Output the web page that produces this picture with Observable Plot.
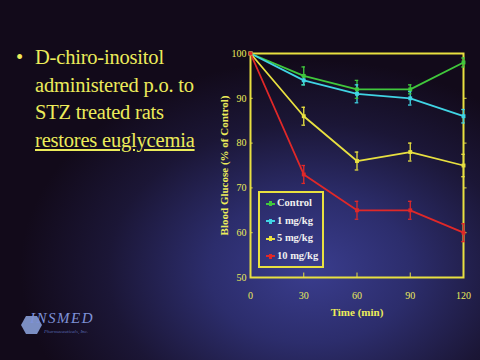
<!DOCTYPE html>
<html><head><meta charset="utf-8">
<script src="https://cdn.jsdelivr.net/npm/d3@7"></script>
<script src="https://cdn.jsdelivr.net/npm/@observablehq/plot@0.6"></script>
<style>
html,body{margin:0;padding:0;}
body{width:480px;height:360px;overflow:hidden;position:relative;
 background: radial-gradient(ellipse 290px 210px at 310px 270px, #3a3d8e 0%, #2c2d6c 35%, #1b1636 70%, #120a1a 100%);
 font-family:"Liberation Serif","Times New Roman",serif;}
#bullet{position:absolute;left:16px;top:44px;color:#ecec5a;font-size:20.5px;line-height:27.5px;}
#bullet .dot{position:absolute;left:0;top:0;}
#bullet .txt{position:absolute;left:19px;top:0;white-space:nowrap;letter-spacing:-0.2px;}
#chart{position:absolute;left:210px;top:40px;}
#chart svg{overflow:visible;}
#legend{position:absolute;left:258px;top:191px;width:62px;height:73px;border:2px solid #e8e040;
 color:#f0f0f0;font-weight:bold;font-size:10.5px;}
#legend .row{position:absolute;left:6px;height:12px;line-height:12px;white-space:nowrap;}
#legend .sw{display:inline-block;width:9px;height:2px;vertical-align:middle;margin-right:2px;position:relative;}
#legend .sw i{position:absolute;left:3px;top:-1.5px;width:3px;height:5px;}
#logo{position:absolute;left:28px;top:312px;color:#6878c8;}
</style></head>
<body>
<div id="bullet"><span class="dot">•</span><div class="txt">D-chiro-inositol<br>administered p.o. to<br>STZ treated rats<br><u>restores euglycemia</u></div></div>
<div id="chart"></div>
<div id="legend"></div>
<div id="logo">
<svg width="24" height="22" style="position:absolute;left:-8px;top:2px"><polygon points="6,2 17,2 22,11 17,20 6,20 1,11" fill="#8ea6e0" opacity="0.85"/></svg>
<span style="position:absolute;left:2px;top:-2px;font-style:italic;font-size:15px;letter-spacing:1.5px;color:#7f92d8;">INSMED</span>
<span style="position:absolute;left:16px;top:17px;font-style:italic;font-size:5px;color:#5868b0;white-space:nowrap;">Pharmaceuticals, Inc.</span>
</div>
<script>
const times = [0, 30, 60, 90, 120];
const seriesNames = ["Control", "1 mg/kg", "5 mg/kg", "10 mg/kg"];
const seriesColors = ["#40c83c", "#40d4e4", "#e8e040", "#e02828"];
const controlVals = [100, 95, 92, 92, 98];
const controlErr = [0, 2, 2, 1, 1];
const mg1Vals = [100, 94, 91, 90, 86];
const mg1Err = [0, 1, 2, 1.5, 1.5];
const mg5Vals = [100, 86, 76, 78, 75];
const mg5Err = [0, 2, 2, 2, 2.5];
const mg10Vals = [100, 73, 65, 65, 60];
const mg10Err = [0, 2, 2, 2, 2];
const xTicks = [0, 30, 60, 90, 120];
const yTicks = [50, 60, 70, 80, 90, 100];

const allVals = [controlVals, mg1Vals, mg5Vals, mg10Vals];
const allErr = [controlErr, mg1Err, mg5Err, mg10Err];
const data = [];
seriesNames.forEach((s, i) => times.forEach((t, j) => data.push({series: s, t, v: allVals[i][j], e: allErr[i][j]})));
const errData = data.filter(d => d.e > 0);
const color = {domain: seriesNames, range: seriesColors};
const innerX = xTicks.slice(1, -1);
const innerY = yTicks.slice(1, -1);

const chart = Plot.plot({
  width: 270, height: 280,
  marginLeft: 40, marginRight: 17, marginTop: 13, marginBottom: 43,
  style: {background: "transparent", color: "#ecec5a", fontFamily: "Liberation Serif, serif", fontSize: "10px", overflow: "visible"},
  x: {domain: [0, 120], label: null},
  y: {domain: [50, 100], label: null},
  color,
  marks: [
    Plot.frame({stroke: "#e8e040", strokeWidth: 2}),
    Plot.ruleX(innerX, {x: d => d, y1: 50, y2: 51, stroke: "#e8e040"}),
    Plot.ruleY(innerY, {y: d => d, x1: 0, x2: 1.5, stroke: "#e8e040"}),
    Plot.ruleY(innerY, {y: d => d, x1: 120, x2: 122, stroke: "#e8e040"}),
    Plot.ruleX(errData, {x: "t", y1: d => d.v - d.e, y2: d => d.v + d.e, stroke: "series", strokeWidth: 1.3}),
    Plot.ruleY(errData, {y: d => d.v - d.e, x1: d => d.t - 1, x2: d => d.t + 1, stroke: "series", strokeWidth: 1.3}),
    Plot.ruleY(errData, {y: d => d.v + d.e, x1: d => d.t - 1, x2: d => d.t + 1, stroke: "series", strokeWidth: 1.3}),
    Plot.line(data, {x: "t", y: "v", z: "series", stroke: "series", strokeWidth: 1.8}),
    Plot.dot(data, {x: "t", y: "v", fill: "series", symbol: "square", r: 2.2}),
    Plot.axisX({ticks: xTicks, tickSize: 0, tickPadding: 14, label: null, fill: "#ecec5a"}),
    Plot.axisY({ticks: yTicks, tickSize: 0, tickPadding: 4, label: null, fill: "#ecec5a"}),
    Plot.text(["Time (min)"], {frameAnchor: "bottom", dy: 38, fontWeight: "bold", fontSize: 11, fill: "#ecec5a"}),
    Plot.text(["Blood Glucose (% of Control)"], {frameAnchor: "left", textAnchor: "middle", dx: -26, rotate: -90, fontWeight: "bold", fontSize: 11, fill: "#ecec5a"})
  ]
});
document.getElementById("chart").appendChild(chart);

const leg = document.getElementById("legend");
seriesNames.forEach((s, i) => {
  const row = document.createElement("div");
  row.className = "row";
  row.style.top = (4 + i * 17.5) + "px";
  row.innerHTML = `<span class="sw" style="background:${seriesColors[i]}"><i style="background:${seriesColors[i]}"></i></span>${s}`;
  leg.appendChild(row);
});
</script>
</body></html>
